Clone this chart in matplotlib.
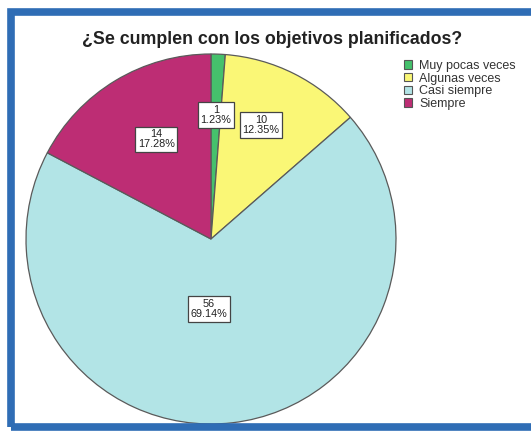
import matplotlib
matplotlib.use("Agg")
import matplotlib.pyplot as plt
from matplotlib.patches import Rectangle, Patch
import numpy as np

plt.rcParams['font.family'] = ['Liberation Sans', 'DejaVu Sans']

title = "¿Se cumplen con los objetivos planificados?"
categories = ["Muy pocas veces", "Algunas veces", "Casi siempre", "Siempre"]
counts = [1, 10, 56, 14]
percents = ["1.23%", "12.35%", "69.14%", "17.28%"]
colors = ["#45C16C", "#FAF776", "#B2E4E6", "#BD2D74"]

W, H = 531, 432
fig = plt.figure(figsize=(W / 100, H / 100), dpi=100)
fig.patch.set_facecolor("white")

# blue frame
fig.patches.append(Rectangle((11 / W, 5 / H), (W + 20) / W, (H - 17) / H,
                             transform=fig.transFigure, fill=False,
                             edgecolor="#2F6DB5", linewidth=5.5, zorder=0))

cx, cy, r = 211, H - 239, 185
ax = fig.add_axes([(cx - r) / W, (cy - r) / H, 2 * r / W, 2 * r / H])
wedges, _ = ax.pie(counts, colors=colors, startangle=90, counterclock=False,
                   radius=1, wedgeprops=dict(edgecolor="#5a5a5a", linewidth=0.9))
ax.set_xlim(-1, 1)
ax.set_ylim(-1, 1)
ax.set_aspect("auto")
ax.axis("off")

label_r = [0.67, 0.69, 0.38, 0.63]
label_shift = [(0.0, 0.0), (-0.04, 0.0), (-0.055, 0.0), (0.03, 0.0)]
for w, c, p, lr, sh in zip(wedges, counts, percents, label_r, label_shift):
    ang = np.deg2rad((w.theta1 + w.theta2) / 2)
    x = lr * np.cos(ang) + sh[0]
    y = lr * np.sin(ang) + sh[1]
    ax.text(x, y, f"{c}\n{p}", ha="center", va="center", fontsize=7.8,
            color="#222222", linespacing=1.0,
            bbox=dict(boxstyle="square,pad=0.25", facecolor="white",
                      edgecolor="#444444", linewidth=0.9))

fig.text(272 / W, 1 - 39 / H, title, ha="center", va="center",
         fontsize=12.8, fontweight="bold", color="#222222")

handles = [Patch(facecolor=c, edgecolor="#555555", linewidth=0.8) for c in colors]
leg = fig.legend(handles, categories, loc="upper left",
                 bbox_to_anchor=(404 / W, 1 - 60 / H), frameon=False,
                 fontsize=9, handlelength=0.65, handleheight=0.65,
                 handletextpad=0.55, labelspacing=0.05, borderaxespad=0,
                 borderpad=0)
for t in leg.get_texts():
    t.set_color("#333333")

fig.savefig("out.png", dpi=100)
